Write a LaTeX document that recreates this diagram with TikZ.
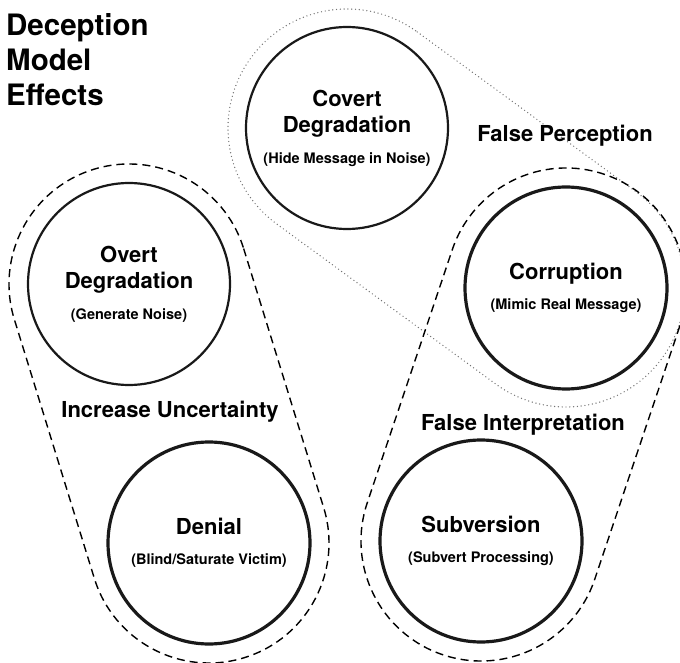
\documentclass[tikz,border=0pt]{standalone}
\usepackage{fontspec}
\setmainfont{TeX Gyre Heros}
\usepackage{tikz}
\usetikzlibrary{calc}

\newcommand{\hint}[1]{{\fontsize{14.5}{16}\selectfont #1}}

\tikzset{
  effect/.style={circle, draw=black!90, line width=2.2pt, minimum size=202pt,
    inner sep=0pt, align=center, font=\bfseries\fontsize{22}{26}\selectfont},
  heavy/.style={effect, line width=3.2pt},
  group/.style={font=\bfseries\fontsize{22}{26}\selectfont, anchor=base},
  hull/.style={line width=1.4pt, dash pattern=on 8pt off 5pt},
  dots/.style={black!55, line width=1.4pt, line cap=round, dash pattern=on 0pt off 3.8pt}
}

\begin{document}
\begin{tikzpicture}[x=1pt, y=1pt]
  \useasboundingbox (0,0) rectangle (680,662);

  % Titel
  \node[anchor=north west, inner sep=0pt, align=left,
    font=\bfseries\fontsize{29.5}{35}\selectfont] (title) at (6,649)
    {Deception\\Model\\Effects};

  % Effekte
  \node[effect] (covert) at (347,534) {Covert\\Degradation\\[5pt]\hint{(Hide Message in Noise)}};
  \node[effect] (overt) at (129,378) {Overt\\Degradation\\[5pt]\hint{(Generate Noise)}};
  \node[heavy] (corrupt) at (566,374) {Corruption\\[4pt]\hint{(Mimic Real Message)}};
  \node[heavy] (denial) at (209,119) {Denial\\[4pt]\hint{(Blind/Saturate Victim)}};
  \node[heavy] (subvert) at (481,121) {Subversion\\[4pt]\hint{(Subvert Processing)}};

  % Gruppen
  \draw[dots] let \p1=($(corrupt.center)-(covert.center)$), \n1={atan2(\y1,\x1)} in
    ($(covert.center)+(\n1+90:119pt)$) -- ($(corrupt.center)+(\n1+90:119pt)$)
    arc[start angle=\n1+90, end angle=\n1-90, radius=119pt]
    -- ($(covert.center)+(\n1-90:119pt)$)
    arc[start angle=\n1-90, end angle=\n1-270, radius=119pt] -- cycle;

  \draw[hull] let \p1=($(denial.center)-(overt.center)$), \n1={atan2(\y1,\x1)} in
    ($(overt.center)+(\n1+90:120pt)$) -- ($(denial.center)+(\n1+90:120pt)$)
    arc[start angle=\n1+90, end angle=\n1-90, radius=120pt]
    -- ($(overt.center)+(\n1-90:120pt)$)
    arc[start angle=\n1-90, end angle=\n1-270, radius=120pt] -- cycle;

  \draw[hull] let \p1=($(subvert.center)-(corrupt.center)$), \n1={atan2(\y1,\x1)} in
    ($(corrupt.center)+(\n1+90:120pt)$) -- ($(subvert.center)+(\n1+90:120pt)$)
    arc[start angle=\n1+90, end angle=\n1-90, radius=120pt]
    -- ($(corrupt.center)+(\n1-90:120pt)$)
    arc[start angle=\n1-90, end angle=\n1-270, radius=120pt] -- cycle;

  \node[group] (perception) at (565,520) {False Perception};
  \node[group] (uncertainty) at (170,244) {Increase Uncertainty};
  \node[group] (interpretation) at (523,232) {False Interpretation};
\end{tikzpicture}
\end{document}
